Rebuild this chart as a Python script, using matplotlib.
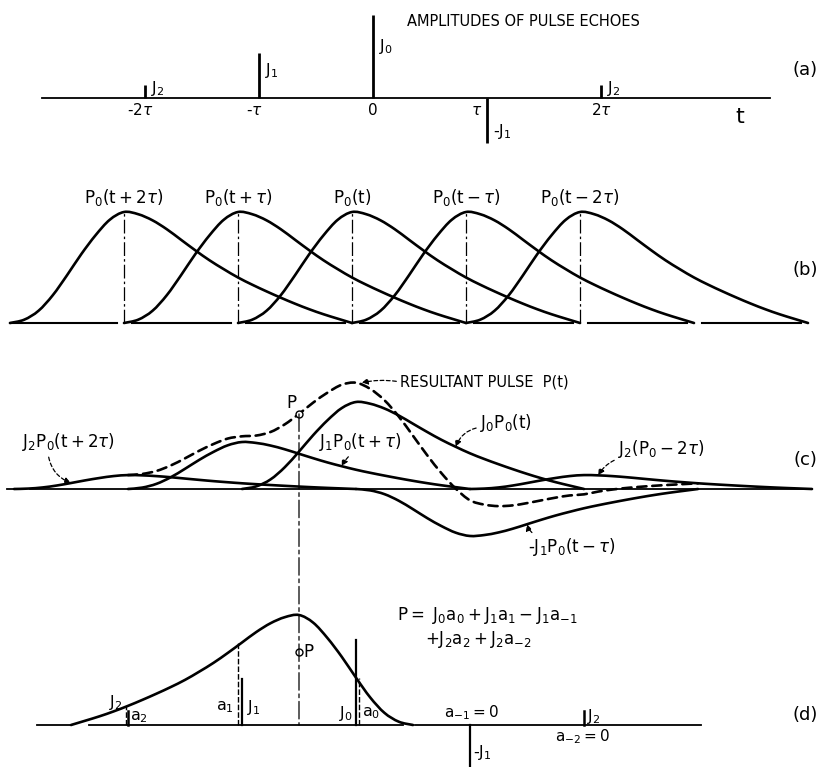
import numpy as np
import matplotlib.pyplot as plt
from matplotlib.patches import ConnectionPatch, PathPatch
from matplotlib.path import Path

plt.rcParams['font.family'] = ['DejaVu Sans']
plt.rcParams['mathtext.fontset'] = 'dejavusans'
plt.rcParams['mathtext.default'] = 'regular'

W, H = 820, 767
TAU = 114.0          # pixels per tau on every panel
T = r'\mathit{\tau}'

# echo delays (in tau) and their amplitudes
delays = np.array([-2, -1, 0, 1, 2])
J0, J1, J2 = 1.0, 0.54, 0.16
amps = np.array([J2, J1, J0, -J1, J2])
echo_names = ['$J_2$', '$J_1$', '$J_0$', '-$J_1$', '$J_2$']
tick_labels = ['-$2' + T + '$', '-$' + T + '$', '0', '$' + T + '$', '$2' + T + '$']
pulse_names = ['$P_0(t+2' + T + ')$', '$P_0(t+' + T + ')$', '$P_0(t)$',
               '$P_0(t-' + T + ')$', '$P_0(t-2' + T + ')$']

# basic pulse P0, sampled every tau/8 from -tau to +2tau
STEP = 8
p0_rise = [0, 0.03, 0.11, 0.25, 0.43, 0.62, 0.79, 0.93, 1.0]
p0_fall = [0.98, 0.925, 0.845, 0.75, 0.655, 0.565, 0.485, 0.41, 0.345, 0.285,
           0.228, 0.174, 0.124, 0.079, 0.039, 0.0]
p0 = np.array(p0_rise + p0_fall)
t0 = (np.arange(len(p0)) - STEP) / STEP

t_P = -0.5


def pulse(t, shift):
    k = np.rint((np.asarray(t, float) - shift + 1) * STEP).astype(int)
    out = np.zeros(k.shape)
    ok = (k >= 0) & (k < len(p0))
    out[ok] = p0[k[ok]]
    return out


grid = np.arange(-3 * STEP, 4 * STEP + 1) / STEP
resultant = sum(a * pulse(grid, s) for s, a in zip(delays, amps))
a_vals = np.array([pulse(np.array([t_P - s]), 0)[0] for s in delays])
P_value = float(np.sum(amps * a_vals))

fig = plt.figure(figsize=(W / 100, H / 100), dpi=100)


def overlay(x0, y0, ppu):
    ax = fig.add_axes([0, 0, 1, 1])
    ax.set_xlim(-x0 / TAU, (W - x0) / TAU)
    ax.set_ylim(-(H - y0) / ppu, y0 / ppu)
    ax.axis('off')
    ax.patch.set_alpha(0)
    return ax


def smooth(ax, x, y, lw=1.9, ls='-'):
    # sampled curve drawn as a Catmull-Rom chain of cubic Beziers
    pts = np.column_stack([x, y]).astype(float)
    ext = np.vstack([pts[0], pts, pts[-1]])
    verts, codes = [pts[0]], [Path.MOVETO]
    for i in range(len(pts) - 1):
        pm, pa, pb, pp = ext[i], ext[i + 1], ext[i + 2], ext[i + 3]
        verts += [pa + (pb - pm) / 6, pb - (pp - pa) / 6, pb]
        codes += [Path.CURVE4] * 3
    ax.add_patch(PathPatch(Path(verts, codes), fill=False, edgecolor='k',
                           lw=lw, ls=ls, capstyle='round', joinstyle='round'))


def ftext(x, y, s, **kw):
    fig.text(x / W, 1 - y / H, s, **kw)


LW = 1.9
DASHDOT = (0, (11, 2.5, 2, 2.5))

# (a) amplitudes of the echoes
ax_a = overlay(373, 98, 83)
ax_a.plot([-2.9, 3.48], [0, 0], color='k', lw=1.3)
ax_a.vlines(delays, 0, amps, color='k', lw=2.0)
for s, a, name in zip(delays, amps, echo_names):
    y = a * 0.62 if a > 0 else a * 0.75
    if abs(a) < 0.2:
        y = a * 0.7
    ax_a.text(s + 0.05, y, name, fontsize=11.5, ha='left', va='center')
for s, lab in zip(delays, tick_labels):
    if s == 1:
        ax_a.text(s - 0.04, -0.15, lab, fontsize=11, ha='right', va='center')
    else:
        ax_a.text(s - 0.04 * (s < 0), -0.15, lab, fontsize=11, ha='center', va='center')
ax_a.text(3.22, -0.23, 't', fontsize=16, ha='center', va='center')
ftext(407, 21, 'AMPLITUDES OF PULSE ECHOES', fontsize=10.5, ha='left', va='center')

# (b) the individual delayed pulses
ax_b = overlay(352, 323, 111)
for s, name in zip(delays, pulse_names):
    smooth(ax_b, t0 + s, p0, lw=LW)
    ax_b.plot([s, s], [0, 1], color='k', lw=0.9, ls=DASHDOT)
    ax_b.text(s, 1.13, name, fontsize=12, ha='center', va='center')
for k in range(-3, 4):
    ax_b.plot([k + (0.07 if k > -3 else 0.0), k + 1 - 0.06], [0, 0], color='k', lw=1.5)

# (c) weighted echoes and their sum
ax_c = overlay(356, 489, 87)
ax_c.plot([-3.06, -2.95], [0, 0], color='k', lw=1.3)
ax_c.plot([-2.86, 3.94], [0, 0], color='k', lw=1.3)
for s, a in zip(delays, amps):
    smooth(ax_c, t0 + s, a * p0, lw=LW)
m = (grid >= -2) & (grid <= 3)
smooth(ax_c, grid[m], resultant[m], lw=LW, ls=(0, (3.5, 2.2)))
ax_c.plot(t_P, P_value, 'o', ms=5, mfc='white', mec='k', mew=1.0, zorder=5)
ax_c.text(t_P - 0.07, P_value + 0.12, 'P', fontsize=12, ha='center', va='center')

lead = dict(arrowstyle='-|>', color='k', lw=0.9, ls=(0, (3, 2)),
            mutation_scale=9, shrinkA=1, shrinkB=0)
i_pk = int(np.argmax(resultant))
ax_c.annotate('RESULTANT PULSE  P(t)', xy=(grid[i_pk] + 0.05, resultant[i_pk]),
              xytext=(0.39, 1.23), fontsize=10.5, ha='left', va='center',
              arrowprops=dict(lead, relpos=(0, 0.5), connectionstyle='arc3,rad=0.1'))
ax_c.annotate('$J_0P_0(t)$', xy=(0.875, J0 * pulse(np.array([0.875]), 0)[0]),
              xytext=(1.09, 0.76), fontsize=12, ha='left', va='center',
              arrowprops=dict(lead, relpos=(0, 0.3), connectionstyle='arc3,rad=0.3'))
ax_c.annotate('$J_1P_0(t+' + T + ')$', xy=(-0.125, J1 * pulse(np.array([-0.125]), -1)[0]),
              xytext=(0.04, 0.54), fontsize=12, ha='center', va='center',
              arrowprops=dict(lead, relpos=(0.4, 0), connectionstyle='arc3,rad=0.1'))
ax_c.annotate('$J_2P_0(t+2' + T + ')$', xy=(-2.5, J2 * pulse(np.array([-2.5]), -2)[0]),
              xytext=(-2.93, 0.54), fontsize=12, ha='left', va='center',
              arrowprops=dict(lead, relpos=(0.28, 0), connectionstyle='arc3,rad=0.3'))
ax_c.annotate('$J_2(P_0-2' + T + ')$', xy=(2.125, J2 * pulse(np.array([2.125]), 2)[0]),
              xytext=(2.30, 0.46), fontsize=12, ha='left', va='center',
              arrowprops=dict(lead, relpos=(0.03, 0.1), connectionstyle='arc3,rad=0.2'))
ax_c.annotate('-$J_1P_0(t-' + T + ')$', xy=(1.5, -J1 * pulse(np.array([1.5]), 1)[0]),
              xytext=(1.51, -0.67), fontsize=12, ha='left', va='center',
              arrowprops=dict(lead, relpos=(0.1, 1), connectionstyle='arc3,rad=-0.2'))

# (d) the resultant at t_P as a weighted sum of samples of the reversed pulse
ax_d = overlay(356, 725, 110)
ax_dj = overlay(356, 725, 85)
smooth(ax_d, t_P - t0, p0, lw=LW)
ax_d.plot([-2.8, -2.51], [0, 0], color='k', lw=1.3)
ax_d.plot([-2.34, 0.41], [0, 0], color='k', lw=1.3)
ax_d.plot([0.52, 3.03], [0, 0], color='k', lw=1.3)
a_offset = [-0.02, -0.035, 0.025, 0, 0]
for s, a, av, off in zip(delays, amps, a_vals, a_offset):
    ax_dj.plot([s, s], [0, a], color='k', lw=1.6 if abs(a) > 0.2 else 1.8)
    if av > 0:
        ax_d.plot([s + off, s + off], [0, av], color='k', lw=1.0, ls=(0, (4, 1.5)))

ax_dj.text(-2.05, J2 + 0.1, '$J_2$', fontsize=11.5, ha='right', va='center')
ax_dj.text(-1.98, J2 * 0.6, '$a_2$', fontsize=11.5, ha='left', va='center')
ax_dj.text(-1.07, 0.21, '$a_1$', fontsize=11.5, ha='right', va='center')
ax_dj.text(-0.96, 0.21, '$J_1$', fontsize=11.5, ha='left', va='center')
ax_dj.text(-0.03, 0.14, '$J_0$', fontsize=11.5, ha='right', va='center')
ax_dj.text(0.05, 0.14, '$a_0$', fontsize=11.5, ha='left', va='center')
ax_dj.text(1.01, 0.14, '$a_{-1}=0$', fontsize=11, ha='center', va='center')
ax_dj.text(1.03, -0.32, '-$J_1$', fontsize=11.5, ha='left', va='center')
ax_dj.text(2.03, J2 * 0.65, '$J_2$', fontsize=11.5, ha='left', va='center')
ax_dj.text(1.99, -0.14, '$a_{-2}=0$', fontsize=11, ha='center', va='center')

ax_dj.plot(t_P, P_value, 'o', ms=5, mfc='white', mec='k', mew=1.0, zorder=5)
ax_dj.text(t_P + 0.04, P_value, 'P', fontsize=12, ha='left', va='center')

ftext(397, 615, '$P=\\ J_0a_0+J_1a_1-J_1a_{-1}$', fontsize=12, ha='left', va='center')
ftext(425, 640, '$+J_2a_2+J_2a_{-2}$', fontsize=12, ha='left', va='center')

# dashed line carrying P from (c) down to (d)
con = ConnectionPatch(xyA=(t_P, P_value), coordsA=ax_c.transData,
                      xyB=(t_P, 0), coordsB=ax_d.transData,
                      color='k', lw=0.9, ls=(0, (14, 3, 3, 3)))
fig.add_artist(con)

for lab, y in zip(['(a)', '(b)', '(c)', '(d)'], [70, 270, 460, 715]):
    ftext(805, y, lab, fontsize=13, ha='center', va='center')

fig.savefig('out.png', dpi=100, facecolor='white')
